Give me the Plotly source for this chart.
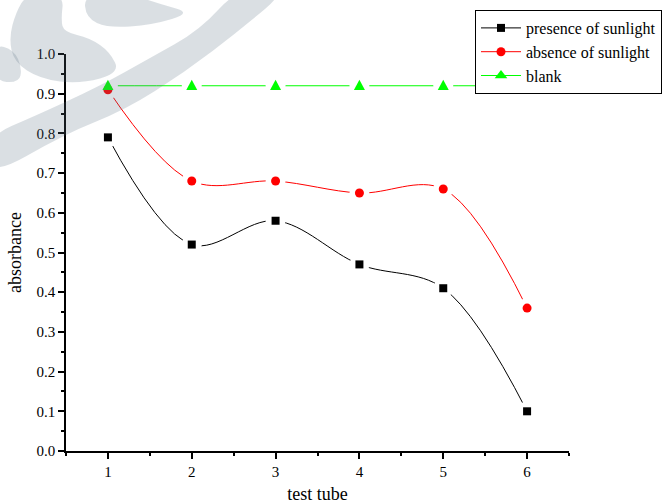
import plotly.graph_objects as go

# ---- data -------------------------------------------------------------
tubes = [1, 2, 3, 4, 5, 6]
presence_of_sunlight = [0.79, 0.52, 0.58, 0.47, 0.41, 0.10]
absence_of_sunlight = [0.91, 0.68, 0.68, 0.65, 0.66, 0.36]
blank = [0.92, 0.92, 0.92, 0.92, 0.92, 0.92]

series_names = ["presence of sunlight", "absence of sunlight", "blank"]
series_values = [presence_of_sunlight, absence_of_sunlight, blank]
series_colors = ["#000000", "#ff0000", "#00ff00"]
series_symbols = ["square", "circle", "triangle-up"]
series_sizes = [8, 9, 11]

FONT = "Liberation Serif, Times New Roman, Times, serif"

# ---- figure geometry (pixels) ------------------------------------------
W, H = 667, 504
L, R, T, B = 66, 98, 54, 53
PW, PH = W - L - R, H - T - B


def to_paper(x, y):
    return (x - L) / PW, (H - B - y) / PH


def smooth_path(points):
    """Closed smooth outline: quadratic curves through edge midpoints."""
    pts = [to_paper(*p) for p in points]
    n = len(pts)
    mids = [((pts[i][0] + pts[(i + 1) % n][0]) / 2,
             (pts[i][1] + pts[(i + 1) % n][1]) / 2) for i in range(n)]
    d = f"M{mids[-1][0]:.4f},{mids[-1][1]:.4f}"
    for i in range(n):
        cx, cy = pts[i]
        mx, my = mids[i]
        d += f" Q{cx:.4f},{cy:.4f} {mx:.4f},{my:.4f}"
    return d + " Z"


def pixel_shape(kind, x, y, half, color, **extra):
    """A shape of fixed pixel size anchored at a data point."""
    base = dict(xref="x", yref="y", xsizemode="pixel", ysizemode="pixel",
                xanchor=x, yanchor=y, fillcolor=color, line=dict(width=0),
                layer="above")
    if kind == "triangle-up":
        base.update(type="path",
                    path=f"M{-half},{-0.75 * half} L{half},{-0.75 * half} "
                         f"L0,{1.1 * half} Z")
    else:
        base.update(type="circle" if kind == "circle" else "rect",
                    x0=-half, x1=half, y0=-half, y1=half)
    base.update(extra)
    return base


fig = go.Figure()

# smooth curves (these also provide the legend entries)
for name, vals, col, sym, sz in zip(series_names, series_values, series_colors,
                                    series_symbols, series_sizes):
    fig.add_trace(go.Scatter(
        x=tubes, y=vals, name=name, mode="lines+markers",
        line=dict(color=col, width=1, shape="spline", smoothing=1),
        marker=dict(symbol=sym, size=sz, color=col, line=dict(width=0)),
    ))

shapes = []
# white gaps that break each curve around its data points
for vals in series_values:
    for t, v in zip(tubes, vals):
        shapes.append(pixel_shape("circle", t, v, 10, "white"))
# data-point symbols drawn above the gaps
for vals, col, sym, sz in zip(series_values, series_colors, series_symbols,
                              series_sizes):
    for t, v in zip(tubes, vals):
        shapes.append(pixel_shape(sym, t, v, sz / 2, col))

# faint leaf/swoosh logo in the upper-left corner
wm_fill = "rgba(90,110,130,0.224)"
logo_parts = [
    # swoosh
    [(-12, 136), (35, 116), (100, 86), (150, 58), (200, 30), (238, -12),
     (290, -12), (240, 30), (185, 72), (125, 110), (65, 134), (-12, 178)],
    # large leaf
    [(27, -6), (64, -6), (61, 20), (64, 32), (90, 38), (110, 52), (120, 73),
     (80, 84), (40, 79), (14, 62), (9, 38), (16, 12)],
    # small leaf at the top
    [(84, -6), (130, -6), (160, 4), (192, 13), (152, 25), (108, 28), (86, 18)],
    # left wing
    [(-6, 44), (14, 50), (22, 68), (19, 83), (-6, 81)],
]
shapes += [dict(type="path", xref="paper", yref="paper", path=smooth_path(p),
                fillcolor=wm_fill, line=dict(width=0), layer="above")
           for p in logo_parts]

axis_common = dict(
    showgrid=False, zeroline=False, showline=True, linecolor="black",
    linewidth=1.5, ticks="outside", tickwidth=1.5, ticklen=6,
    tickcolor="black", mirror=False,
    tickfont=dict(family=FONT, size=15, color="black"),
)

fig.update_layout(
    width=W, height=H,
    margin=dict(l=L, r=R, t=T, b=B, autoexpand=False),
    paper_bgcolor="white", plot_bgcolor="rgba(0,0,0,0)",
    font=dict(family=FONT, size=15, color="black"),
    shapes=shapes,
    xaxis=dict(
        range=[0.5, 6.5], tickmode="linear", tick0=1, dtick=1,
        minor=dict(ticks="outside", tick0=0.5, dtick=0.5, ticklen=3,
                   tickwidth=1.5, tickcolor="black"),
        title=dict(text="test tube", font=dict(family=FONT, size=18), standoff=11),
        **axis_common,
    ),
    yaxis=dict(
        range=[0, 1.0], tickmode="linear", tick0=0, dtick=0.1, tickformat=".1f",
        minor=dict(ticks="outside", tick0=0, dtick=0.05, ticklen=3,
                   tickwidth=1.5, tickcolor="black"),
        title=dict(text="absorbance", font=dict(family=FONT, size=18), standoff=10),
        **axis_common,
    ),
    legend=dict(
        x=(475 - L) / PW, y=(H - B - 10) / PH, xanchor="left", yanchor="top",
        bgcolor="white", bordercolor="black", borderwidth=1,
        font=dict(family=FONT, size=16, color="black"),
        itemwidth=40, tracegroupgap=0,
    ),
    showlegend=True,
)

fig.write_html("out.html")
